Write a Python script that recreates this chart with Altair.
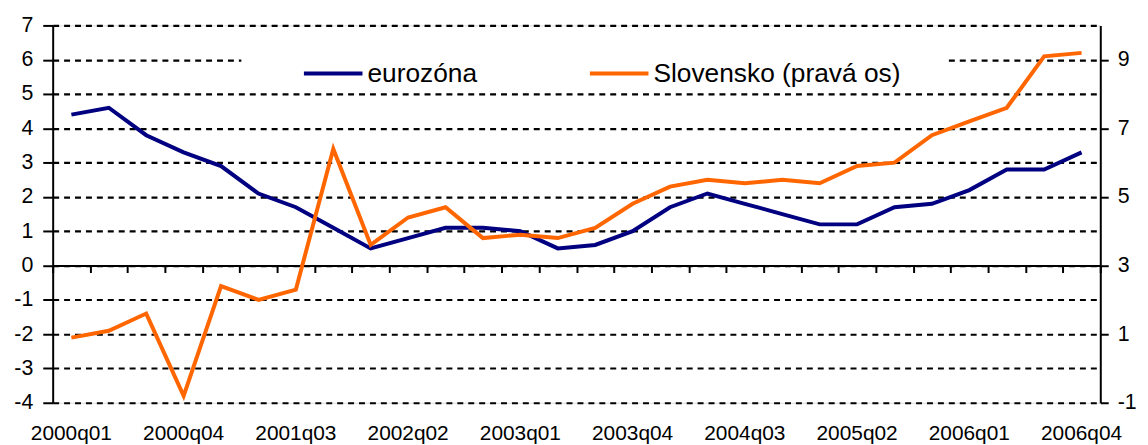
import altair as alt
import pandas as pd

quarters = [f"{y}q0{q}" for y in range(2000, 2007) for q in range(1, 5)]
eurozona = [4.4, 4.6, 3.8, 3.3, 2.9, 2.1, 1.7, 1.1, 0.5, 0.8, 1.1, 1.1, 1.0, 0.5,
            0.6, 1.0, 1.7, 2.1, 1.8, 1.5, 1.2, 1.2, 1.7, 1.8, 2.2, 2.8, 2.8, 3.3]
slovensko = [0.9, 1.1, 1.6, -0.8, 2.4, 2.0, 2.3, 6.4, 3.6, 4.4, 4.7, 3.8, 3.9, 3.8,
             4.1, 4.8, 5.3, 5.5, 5.4, 5.5, 5.4, 5.9, 6.0, 6.8, 7.2, 7.6, 9.1, 9.2]
series_names = ["eurozóna", "Slovensko (pravá os)"]
series_colors = ["#000080", "#FF6600"]
left_ticks = list(range(-4, 8))
right_ticks = [-1, 1, 3, 5, 7, 9]
label_quarters = quarters[::3]

df = pd.DataFrame({"quarter": quarters, "eurozona": eurozona, "slovensko": slovensko})

FONT = "Liberation Sans"
W, H = 1055, 380
zero_offset = (7 / 11) * H - H
hyphen = "replace(datum.label, '\u2212', '-')"

xscale = alt.Scale(type="band", paddingInner=0, paddingOuter=0)
color = alt.Color(
    "series:N",
    scale=alt.Scale(domain=series_names, range=series_colors),
    legend=alt.Legend(
        orient="none", legendX=251, legendY=17, direction="horizontal", columns=2,
        symbolType="stroke", symbolSize=3481, symbolStrokeWidth=4,
        labelFontSize=26.5, labelFont=FONT, labelColor="black", labelLimit=500,
        columnPadding=105, labelOffset=3, padding=0, title=None,
    ),
)

base = alt.Chart(df)

legend_bg = alt.Chart(alt.Data(values=[{"a": 1}])).mark_rect(color="white").encode(
    x=alt.value(190), x2=alt.value(902), y=alt.value(16), y2=alt.value(61)
)

euro = base.transform_calculate(series="'eurozóna'").mark_line(strokeWidth=4).encode(
    x=alt.X("quarter:O", sort=quarters, scale=xscale, bandPosition=0.5,
            axis=alt.Axis(values=label_quarters, ticks=False, tickSize=0, domain=False,
                          labelPadding=20, labelFontSize=21, labelFont=FONT,
                          labelColor="black", labelAngle=0, title=None, grid=False,
                          orient="bottom")),
    y=alt.Y("eurozona:Q", scale=alt.Scale(domain=[-4, 7], nice=False, zero=False),
            axis=alt.Axis(orient="left", values=left_ticks, tickSize=10, tickWidth=2,
                          tickColor="black", domainColor="black", domainWidth=2,
                          grid=True, gridDash=[6, 5], gridColor="black", gridWidth=2.2,
                          gridOpacity=1, labelFontSize=21.5, labelFont=FONT,
                          labelColor="black", labelPadding=10, title=None,
                          labelExpr=hyphen)),
    color=color,
)

slov = base.transform_calculate(series="'Slovensko (pravá os)'").mark_line(strokeWidth=4).encode(
    x=alt.X("quarter:O", sort=quarters, scale=xscale, bandPosition=0.5,
            axis=alt.Axis(orient="bottom", offset=zero_offset, labels=False, ticks=True,
                          tickSize=7, tickWidth=2, tickColor="black", tickBand="extent",
                          domain=True, domainWidth=2, domainColor="black", grid=False,
                          title=None)),
    y=alt.Y("slovensko:Q", scale=alt.Scale(domain=[-1, 10], nice=False, zero=False),
            axis=alt.Axis(orient="right", values=right_ticks, tickSize=8, tickWidth=2,
                          tickColor="black", domainColor="black", domainWidth=2,
                          grid=False, labelFontSize=21.5, labelFont=FONT,
                          labelColor="black", labelPadding=9, title=None,
                          labelExpr=hyphen)),
    color=color,
)

chart = alt.layer(legend_bg, euro, slov).resolve_scale(y="independent").resolve_axis(
    x="independent", y="independent"
).properties(
    width=W, height=H,
    autosize=alt.AutoSizeParams(type="none"),
    padding={"left": 45, "top": 16, "right": 40, "bottom": 41},
).configure_view(stroke=None).configure(background="white")

chart.save("out.html", embed_options={"renderer": "svg", "actions": False})
